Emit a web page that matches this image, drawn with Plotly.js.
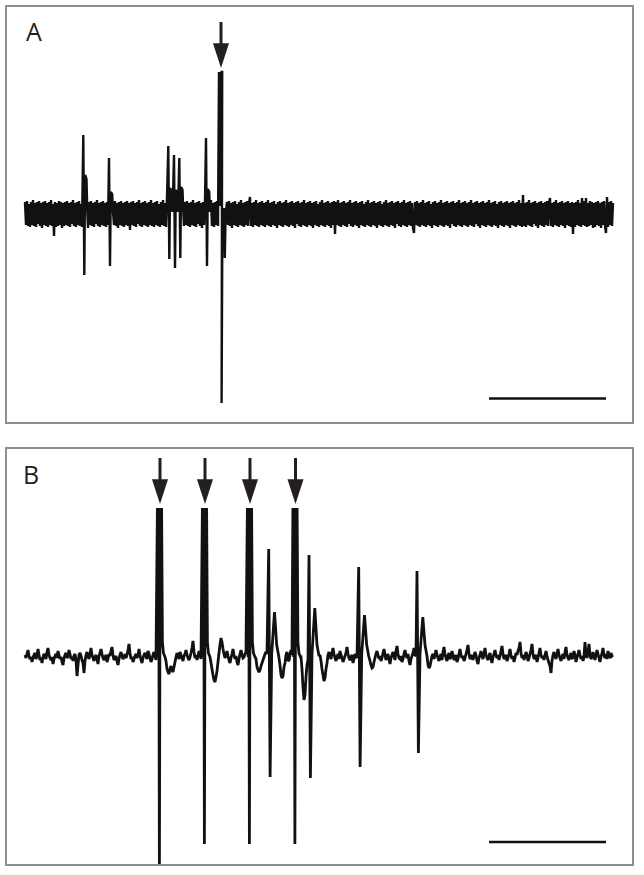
<!DOCTYPE html>
<html>
<head>
<meta charset="utf-8">
<script src="https://cdn.plot.ly/plotly-3.0.1.min.js"></script>
<style>
  html, body { margin: 0; padding: 0; background: #ffffff; }
  #chart { width: 644px; height: 875px; }
</style>
</head>
<body>
<div id="chart"></div>
<script>
// ---------------- DATA ----------------
// Panel A: baseline recording, one sample per time unit from t = 0
const sampleStepA = 1;
const noiseA = [
  12,-11,13,-12,10,-13,12,-11,14,-12,11,-13,12,-10,13,-12,11,-14,12,-11,
  13,-12,11,-13,12,-11,14,-12,10,-22,12,-13,11,-12,13,-11,12,-14,11,-12,
  12,-11,13,-12,11,-13,12,-10,14,-12,11,-13,12,-11,13,-12,10,-13,12,-11,
  13,-12,11,-14,12,-11,13,-12,11,-13,12,-10,14,-12,11,-13,12,-11,13,-12,
  11,-13,12,-11,14,-12,10,-13,12,-11,13,-12,11,-14,12,-11,13,-12,11,-13,
  12,-11,13,-12,11,-16,12,-11,13,-12,11,-13,12,-10,14,-12,11,-13,12,-11,
  13,-12,11,-13,12,-11,14,-12,11,-13,12,-11,13,-12,10,-13,12,-11,14,-12,
  11,-13,16,-12,18,-11,14,-13,17,-12,15,-11,18,-13,14,-12,16,-11,13,-12,
  12,-11,13,-12,11,-13,12,-11,14,-12,11,-13,12,-10,13,-12,11,-14,12,-11,
  13,-12,11,-13,12,-11,14,-12,11,-13,12,-11,13,-12,11,-13,12,-11,14,-12,
  11,-13,12,-11,13,-12,11,-14,12,-11,13,-12,10,-13,12,-11,14,-12,11,-13,
  12,-11,13,-12,11,17,-12,11,-13,12,-11,14,-12,11,-13,12,-11,13,-12,11,
  -13,12,-11,14,-12,11,-13,12,-11,13,-12,10,-14,12,-11,13,-12,11,-13,12,
  -11,14,-12,11,-13,12,-11,13,-12,11,-14,12,-10,13,-12,11,-13,12,-11,14,
  -12,11,-13,12,-11,13,-12,11,-14,12,-11,13,-12,10,-13,12,-11,14,-12,11,
  -13,12,-11,13,-12,11,-14,12,-11,13,-20,12,-11,14,-12,11,-13,12,-11,13,
  -12,11,-13,12,-10,14,-12,11,-13,12,-11,13,-12,11,-14,12,-11,13,-12,10,
  -13,12,-11,14,-12,11,-13,12,-11,13,-12,11,-14,12,-11,13,-12,10,-13,12,
  -11,14,-12,11,-13,12,-11,13,-12,11,-14,12,-10,13,-12,11,-13,12,-11,14,
  -12,11,-13,12,-11,13,-12,11,-14,-19,12,-11,13,-12,11,-13,12,-11,14,-12,
  11,-13,12,-11,13,-12,10,-14,12,-11,13,-12,11,-13,12,-11,14,-12,11,-13,
  12,-11,13,-12,11,-14,12,-10,13,-12,11,-13,12,-11,14,-12,11,-13,12,-11,
  13,-12,11,-13,12,-11,14,-12,11,-13,12,-10,13,-12,11,-14,12,-11,13,-12,
  11,-13,12,-11,14,-12,11,-13,12,-11,13,-12,10,-14,12,-11,13,-12,11,-13,
  12,-11,13,-12,11,-14,12,-11,13,-12,11,-13,12,-11,14,-12,11,-13,19,-12,
  11,-13,12,-11,14,-12,11,-13,12,-10,13,-12,11,-14,12,-11,13,-12,11,-13,
  12,-11,13,-12,11,16,-12,11,-13,12,-11,14,-12,11,-13,12,-11,13,-12,11,
  -14,12,-11,13,-12,11,-13,12,-20,11,-13,12,-11,14,-12,11,-13,16,-11,13,
  -12,16,-13,11,-12,13,-11,12,-14,11,-13,12,-11,13,-12,11,-14,12,-11,13,
  -12,-19,17,-13,12,-11,13,-12,11
];
// Spontaneous spikes in panel A
const spikeTimesA     = [58.3, 84, 143.3, 149, 154.3, 181];
const spikePeaksA     = [79, 56, 68, 59, 56, 76];
const spikeShouldersA = [39, 22, 26, 24, 27, 25];
const spikeTroughsA   = [-61, -52, -45, -54, -44, -52];
// Stimulus artifact in panel A (arrow)
const stimTimesA   = [196];
const stimTopsA    = [142];
const stimBottomsA = [-189];

// Panel B: recording with four stimuli, one sample per time unit from t = 0
const sampleStepB = 1;
const noiseB = [
  2,-1,3,7,1,-2,0,-5,-1,2,4,-2,1,8,2,-3,-1,-6,0,3,
  1,-2,5,9,2,-1,-3,0,-7,-2,1,3,-1,6,2,-2,0,-5,-8,-1,
  2,4,-1,1,7,3,-2,0,-4,1,3,-3,-19,-8,2,4,1,-3,-6,-16,
  -4,2,5,1,-2,3,9,2,-1,-4,0,2,-2,-7,1,4,8,3,-1,-3,
  0,2,-5,-2,3,1,6,10,2,-3,-1,1,-4,-8,-2,2,5,1,-2,0,
  3,-1,2,7,13,4,-2,0,-5,-2,1,3,-1,2,8,2,-3,-6,-1,2,
  4,1,-2,6,3,-1,-5,-2,2,5,1,-3,0,0,0,0,0,0,0,0,
  0,-4,-12,-15,-17,-12,-9,-13,-15,-10,-5,0,4,1,-2,5,2,-1,-4,1,
  3,7,2,-1,-3,0,4,9,16,5,-1,2,-3,1,6,2,-2,0,0,0,
  0,0,0,0,0,0,-6,-12,-18,-23,-25,-20,-14,-5,4,12,19,15,8,3,
  -1,2,6,1,-3,-6,-1,3,8,2,-2,1,-5,-8,-2,3,7,2,-1,0,
  3,5,0,0,0,0,0,0,0,0,0,-2,-10,-13,-15,-13,-9,-6,-3,0,
  3,5,3,0,0,0,0,0,0,0,0,0,0,0,0,-8,-18,-21,-19,-10,
  -6,2,5,-3,-4,3,7,2,0,0,0,0,0,0,0,0,0,-12,-30,-43,
  -38,-20,-8,-3,0,0,0,0,0,0,0,0,0,0,0,2,-4,-12,-18,-24,
  -21,-12,-6,2,5,1,-2,4,9,3,-1,-4,0,3,-2,6,2,-1,-5,-2,
  1,4,10,3,-1,-3,0,2,-6,-2,3,1,-1,0,0,0,0,0,0,0,
  0,0,0,0,0,-4,-8,-11,-10,-5,-1,3,6,2,-2,1,-4,-1,4,8,
  2,-3,0,3,-2,-7,-1,2,5,1,-3,6,11,3,-1,-2,1,-5,-2,3,
  7,2,-1,3,-4,-8,-2,1,4,9,2,1,0,0,0,0,0,0,0,0,
  0,0,0,-8,-11,-9,-4,1,3,-2,2,7,2,-1,-4,0,3,-3,5,10,
  3,-1,-4,1,4,-2,0,6,2,-3,-1,2,-5,-2,3,8,2,-1,1,-4,
  -1,3,7,12,3,-2,0,2,-3,1,5,2,-4,-7,-1,2,6,1,-2,3,
  9,2,-1,-3,1,4,-2,-6,0,3,7,2,-1,2,-3,1,6,11,3,-2,
  0,2,-4,-1,3,8,2,-2,1,-5,-1,4,2,6,9,15,4,-1,2,-3,
  1,5,2,-4,-1,3,7,13,3,-2,0,2,-5,-1,4,9,2,-1,1,-3,
  2,6,1,-3,-6,-9,-16,-4,2,5,1,-2,3,8,2,-1,-4,0,3,-2,
  5,10,2,-1,-3,1,4,-2,0,6,2,-5,-1,3,7,2,-2,1,-4,0,
  15,3,-1,4,13,2,-2,0,5,1,-3,2,7,3,-1,-5,0,4,9,2,
  -1,3,-2,6,2,-1,4,1,2
];
// Stimulus artifacts in panel B (arrows)
const stimTimesB   = [135, 180, 225, 270.5];
const stimTopsB    = [149, 149, 149, 149];
const stimBottomsB = [-215, -187, -187, -187];
// Evoked responses in panel B
const respTimesB   = [243.7, 284, 333.7, 392];
const respPeaksB   = [108, 102, 90, 86];
const respTroughsB = [-120, -121, -110, -96];
const respBumpsB   = [45, 49, 42, 40];

// Scale bar length (same time units)
const scaleBarLength = 117;
const panelLabels = ["A", "B"];

// ---------------- BUILD TRACES ----------------
function merge(noise, step, events) {
  events.sort((a, b) => a.lo - b.lo);
  const xs = [], ys = [];
  let k = 0;
  for (let i = 0; i < noise.length; i++) {
    const t = i * step;
    while (k < events.length && events[k].lo <= t) {
      events[k].pts.forEach(p => { xs.push(p[0]); ys.push(p[1]); });
      k++;
    }
    const inside = events.some(e => t >= e.lo && t <= e.hi);
    if (!inside) { xs.push(t); ys.push(noise[i]); }
  }
  while (k < events.length) {
    events[k].pts.forEach(p => { xs.push(p[0]); ys.push(p[1]); });
    k++;
  }
  return { xs, ys };
}

const eventsA = [];
spikeTimesA.forEach((t, i) => {
  const sh = spikeShouldersA[i];
  eventsA.push({ lo: t - 0.6, hi: t + 4.2, pts: [
    [t, spikePeaksA[i]], [t + 1, spikeTroughsA[i]], [t + 1.8, sh],
    [t + 3.2, sh * 0.9], [t + 4, 2]
  ]});
});
stimTimesA.forEach((t, i) => {
  const top = stimTopsA[i], bot = stimBottomsA[i];
  eventsA.push({ lo: t - 2.5, hi: t + 5, pts: [
    [t - 2, top], [t - 1.3, 8], [t - 0.7, top], [t, 8], [t + 0.6, top], [t + 1.2, top],
    [t + 0.6, bot], [t + 1.4, 0], [t + 2.2, -22], [t + 3, 6],
    [t + 3.8, -44], [t + 4.6, 0]
  ]});
});
const trA = merge(noiseA, sampleStepA, eventsA);

const eventsB = [];
stimTimesB.forEach((t, i) => {
  const top = stimTopsB[i], bot = stimBottomsB[i];
  eventsB.push({ lo: t - 3.2, hi: t + 5.2, pts: [
    [t - 2.6, top], [t - 1.9, 0], [t - 1.3, top], [t - 0.6, bot], [t + 0.2, top],
    [t + 0.9, 10], [t + 1.6, top], [t + 2.4, 15], [t + 3.4, 4], [t + 5, 0]
  ]});
});
respTimesB.forEach((t, i) => {
  eventsB.push({ lo: t - 0.9, hi: t + 10.5, pts: [
    [t, respPeaksB[i]], [t + 1.4, respTroughsB[i]], [t + 3, 3],
    [t + 5.8, respBumpsB[i]], [t + 8, 12], [t + 10, 1]
  ]});
});
const trB = merge(noiseB, sampleStepB, eventsB);

const ink = "#111111";
const arrowInk = "#231f20";

function arrowTraces(times, tops, xa, ya) {
  const sx = [], sy = [], hx = [], hy = [];
  times.forEach((t, i) => {
    const tip = tops[i] + 4;
    sx.push(t, t, null); sy.push(tip + 20, tip + 46, null);
    hx.push(t); hy.push(tip);
  });
  return [
    { x: sx, y: sy, xaxis: xa, yaxis: ya, mode: "lines", hoverinfo: "skip",
      line: { color: arrowInk, width: 3 } },
    { x: hx, y: hy, xaxis: xa, yaxis: ya, mode: "markers", hoverinfo: "skip",
      marker: { symbol: "arrow", angle: 180, size: 26, color: arrowInk, line: { width: 0 } } }
  ];
}

const scaleStart = 464;
const data = [
  { x: trA.xs, y: trA.ys, xaxis: "x", yaxis: "y", mode: "lines",
    line: { color: ink, width: 2.4, simplify: false }, hoverinfo: "skip" },
  { x: trB.xs, y: trB.ys, xaxis: "x2", yaxis: "y2", mode: "lines",
    line: { color: ink, width: 2.8, simplify: false }, hoverinfo: "skip" },
  ...arrowTraces(stimTimesA, stimTopsA, "x", "y"),
  ...arrowTraces(stimTimesB, stimTopsB, "x2", "y2"),
  { x: [scaleStart, scaleStart + scaleBarLength], y: [-184.5, -184.5], xaxis: "x", yaxis: "y",
    mode: "lines", line: { color: ink, width: 2.5 }, hoverinfo: "skip" },
  { x: [scaleStart, scaleStart + scaleBarLength], y: [-185, -185], xaxis: "x2", yaxis: "y2",
    mode: "lines", line: { color: ink, width: 2.5 }, hoverinfo: "skip" }
];

const W = 644, H = 875;
const boxAxis = {
  showgrid: false, zeroline: false, showticklabels: false, ticks: "",
  showline: true, mirror: true, linecolor: "#8e8e8e", linewidth: 2, fixedrange: true
};
const labelFont = { family: "Open Sans, Lato, sans-serif", size: 25, weight: 500, color: arrowInk };
const layout = {
  width: W, height: H,
  margin: { l: 0, r: 0, t: 0, b: 0 },
  paper_bgcolor: "#ffffff", plot_bgcolor: "#ffffff",
  showlegend: false,
  xaxis:  Object.assign({}, boxAxis, { domain: [7 / W, 632 / W], range: [-18, 607], anchor: "y" }),
  yaxis:  Object.assign({}, boxAxis, { domain: [1 - 422 / H, 1 - 7 / H], range: [-208, 207], anchor: "x" }),
  xaxis2: Object.assign({}, boxAxis, { domain: [7 / W, 632 / W], range: [-18, 607], anchor: "y2" }),
  yaxis2: Object.assign({}, boxAxis, { domain: [1 - 864 / H, 1 - 449 / H], range: [-207, 208], anchor: "x2" }),
  annotations: [
    { text: panelLabels[0], xref: "paper", yref: "paper", x: 34 / W, y: 1 - 31 / H,
      xanchor: "center", yanchor: "middle", showarrow: false, font: labelFont },
    { text: panelLabels[1], xref: "paper", yref: "paper", x: 31 / W, y: 1 - 474 / H,
      xanchor: "center", yanchor: "middle", showarrow: false, font: labelFont }
  ]
};

Plotly.newPlot("chart", data, layout, { staticPlot: true, displayModeBar: false });
</script>
</body>
</html>
